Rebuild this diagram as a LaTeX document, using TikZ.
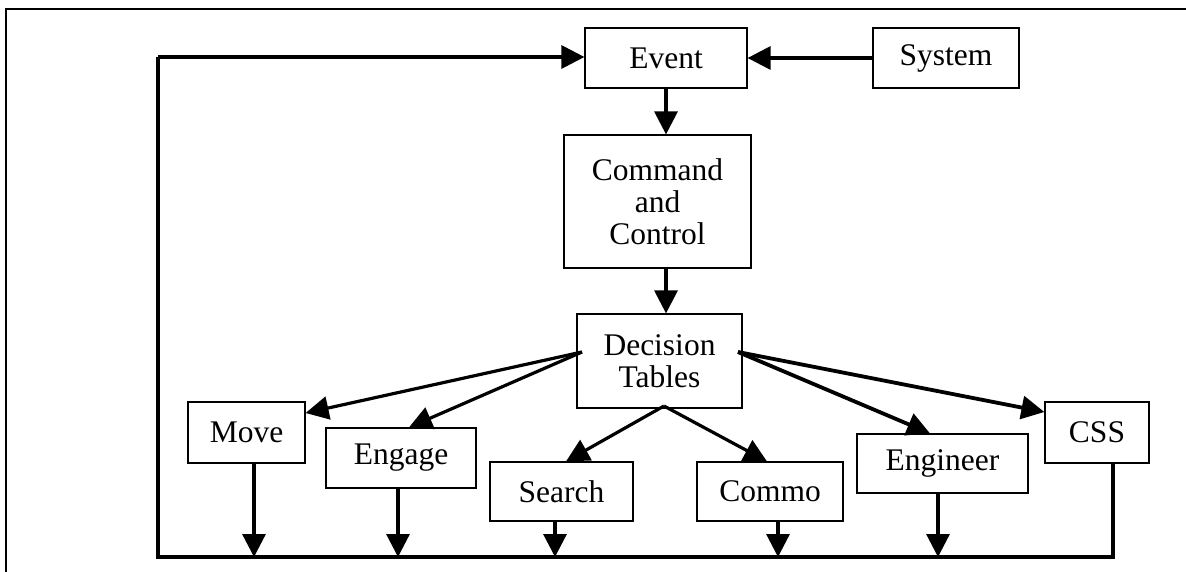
\documentclass[tikz,border=0pt]{standalone}
\usepackage{fontspec}
\setmainfont{Liberation Serif}
\usetikzlibrary{arrows.meta}
\begin{document}
\begin{tikzpicture}[x=1pt,y=-1pt,
  blk/.style={draw,line width=1.2pt,inner sep=0pt,align=center,
    font=\fontsize{31.5}{32}\selectfont},
  arr/.style={line width=3.2pt,-{Triangle[length=23pt,width=23pt]}},
  wire/.style={line width=3.2pt}]
\useasboundingbox (0,0) rectangle (1186,572);
% page frame (top and left edges)
\draw[line width=1.2pt] (1186,9) -- (6,9) -- (6,572);

% blocks
\node[blk,minimum width=162pt,minimum height=60pt] (event) at (666,58) {Event};
\node[blk,minimum width=146pt,minimum height=60pt] (system) at (946,58) {System};
\node[blk,minimum width=187pt,minimum height=133pt] (cmd) at (657.5,201.5) {Command\\and\\Control};
\node[blk,minimum width=165pt,minimum height=94pt] (dec) at (659.5,361) {Decision\\Tables};
\node[blk,minimum width=117pt,minimum height=61pt] (move) at (246.5,432.5) {Move};
\node[blk,minimum width=150pt,minimum height=60pt] (engage) at (401,458) {Engage};
\node[blk,minimum width=143pt,minimum height=59pt] (search) at (561.5,491.5) {Search};
\node[blk,minimum width=146pt,minimum height=59pt] (commo) at (770,491.5) {Commo};
\node[blk,minimum width=171pt,minimum height=59pt] (engr) at (942.5,463.5) {Engineer};
\node[blk,minimum width=104pt,minimum height=61pt] (css) at (1097,432.5) {CSS};

% feedback bus
\coordinate (bl) at (158,557);
\coordinate (tl) at (158,57);
\coordinate (bMove) at (254,557);
\coordinate (bEngage) at (398,557);
\coordinate (bSearch) at (555,557);
\coordinate (bCommo) at (778,557);
\coordinate (bEngr) at (938,557);
\coordinate (bCss) at (1113,557);

% fan-out points on the decision block
\coordinate (dl) at (582,352);
\coordinate (dr) at (738,352);
\coordinate (db) at (664,406);

% main chain
\draw[arr] (system.west) -- (event.east);
\draw[arr] (event.south) -- (event.south |- cmd.north);
\draw[arr] (event.south |- cmd.south) -- (event.south |- dec.north);

% decision outputs
\draw[arr] (dl) -- (move.east |- 0,413);
\draw[arr] (dl) -- ([xshift=8pt]engage.north);
\draw[arr] (db) -- ([xshift=4.5pt]search.north);
\draw[arr] (db) -- ([xshift=-3pt]commo.north);
\draw[arr,line width=3.8pt] (dr) -- ([xshift=-12.5pt]engr.north);
\draw[arr,line width=3.8pt] (dr) -- (css.west |- 0,412);

% returns to the bus
\draw[arr] (move.south -| bMove) -- (bMove);
\draw[arr] (engage.south -| bEngage) -- (bEngage);
\draw[arr] (search.south -| bSearch) -- (bSearch);
\draw[arr] (commo.south -| bCommo) -- (bCommo);
\draw[arr] (engr.south -| bEngr) -- (bEngr);
\draw[wire] (css.south -| bCss) -- (bCss) -- (bl) -- (tl);
\draw[arr] (tl) -- (event.west |- tl);
\end{tikzpicture}
\end{document}
